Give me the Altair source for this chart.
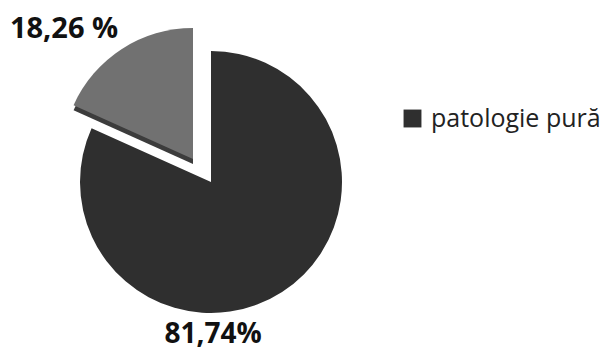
import math
import altair as alt
import pandas as pd

categories = ["patologie pură", "patologie asociată"]
values = [81.74, 18.26]
labels = ["81,74%", "18,26 %"]
colors = ["#2f2f2f", "#717171"]
edge_color = "#3c3c3c"

rows = []
start = 0.0
for c, v, l in zip(categories, values, labels):
    end = start + v / 100 * 2 * math.pi
    rows.append({"cat": c, "value": v, "label": l, "t0": start, "t1": end})
    start = end
df = pd.DataFrame(rows)

CX, CY = 203, 174
GX, GY = 185, 151
R = 131

base = alt.Chart(df)

dark = base.transform_filter(alt.datum.cat == categories[0]).mark_arc(
    radius=R, stroke=None
).encode(
    theta=alt.Theta("t0:Q", scale=None),
    theta2="t1:Q",
    x=alt.value(CX),
    y=alt.value(CY),
    color=alt.Color(
        "cat:N",
        scale=alt.Scale(domain=[categories[0]], range=[colors[0]]),
        legend=alt.Legend(
            title=None,
            orient="none",
            legendX=392,
            legendY=98,
            symbolType="square",
            symbolSize=320,
            symbolStrokeWidth=0,
            labelFont="Open Sans",
            labelFontSize=25,
            labelColor="#222222",
            labelOffset=6,
            labelLimit=300,
        ),
    ),
)

gray_edge = base.transform_filter(alt.datum.cat == categories[1]).mark_arc(
    radius=R, color=edge_color
).encode(
    theta=alt.Theta("t0:Q", scale=None),
    theta2="t1:Q",
    x=alt.value(GX),
    y=alt.value(GY + 5),
)

gray = base.transform_filter(alt.datum.cat == categories[1]).mark_arc(
    radius=R, color=colors[1]
).encode(
    theta=alt.Theta("t0:Q", scale=None),
    theta2="t1:Q",
    x=alt.value(GX),
    y=alt.value(GY),
)

lab_gray = base.transform_filter(alt.datum.cat == categories[1]).mark_text(
    font="Open Sans", fontWeight="bold", fontSize=29, color="#111111"
).encode(text="label:N", x=alt.value(56), y=alt.value(21))

lab_dark = base.transform_filter(alt.datum.cat == categories[0]).mark_text(
    font="Open Sans", fontWeight="bold", fontSize=28, color="#111111"
).encode(text="label:N", x=alt.value(205), y=alt.value(327))

chart = alt.layer(dark, gray_edge, gray, lab_gray, lab_dark).properties(
    width=592,
    height=343,
    autosize=alt.AutoSizeParams(type="none"),
    padding=0,
).configure_view(stroke=None)

chart.save("out.html", embed_options={"renderer": "svg", "actions": False})
